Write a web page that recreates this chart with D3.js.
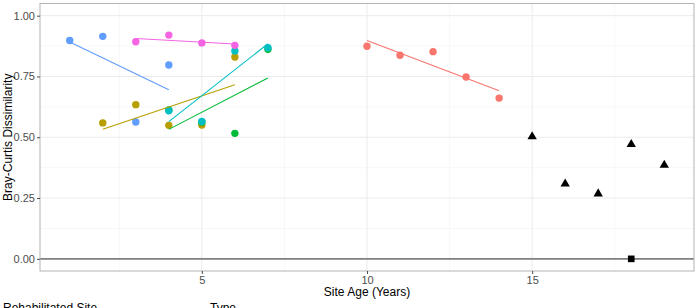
<!DOCTYPE html>
<html><head><meta charset="utf-8">
<script src="https://cdn.jsdelivr.net/npm/d3@7"></script>
<style>body{margin:0;background:#fff}svg{display:block}text{font-family:"Liberation Sans",Arial,sans-serif}</style>
</head><body><svg id="c" width="695" height="308"></svg>
<script>
// ---- data ----
const sites = ["Site 1","Site 2","Site 3","Site 4","Site 5","Site 6"];
const siteColors = ["#F8766D","#B79F00","#00BA38","#00BFC4","#619CFF","#F564E3"];
const site1Age = [10,11,12,13,14], site1Val = [0.874,0.837,0.852,0.748,0.661];
const site2Age = [2,3,4,5,6],      site2Val = [0.559,0.634,0.549,0.550,0.830];
const site3Age = [4,5,6,7],        site3Val = [0.612,0.562,0.516,0.862];
const site4Age = [4,5,6,7],        site4Val = [0.609,0.565,0.855,0.868];
const site5Age = [1,2,3,4],        site5Val = [0.898,0.915,0.563,0.797];
const site6Age = [3,4,5,6],        site6Val = [0.893,0.920,0.888,0.878];
const refAge = [15,16,17,18,19],   refVal = [0.505,0.311,0.270,0.473,0.388];
const ctrlAge = [18],              ctrlVal = [0.0];
const xTicks = [5,10,15];
const yTicks = [0,0.25,0.5,0.75,1];
const yTickLabels = ["0.00","0.25","0.50","0.75","1.00"];

const series = [
  [site1Age,site1Val],[site2Age,site2Val],[site3Age,site3Val],
  [site4Age,site4Val],[site5Age,site5Val],[site6Age,site6Val]
].map((d,i)=>({name:sites[i],color:siteColors[i],pts:d[0].map((a,j)=>({x:a,y:d[1][j]}))}));

// ---- layout ----
const svg = d3.select("#c");
const L=40, R=694, T=3.5, B=271;
const x = d3.scaleLinear().domain([0.1,19.9]).range([L,R]);
const y = d3.scaleLinear().domain([-0.05,1.05]).range([B,T]);

// grid
const g = svg.append("g");
const minorX=[2.5,7.5,12.5,17.5], minorY=[0.125,0.375,0.625,0.875];
g.selectAll(".mx").data(minorX).enter().append("line")
 .attr("x1",d=>x(d)).attr("x2",d=>x(d)).attr("y1",T).attr("y2",B)
 .attr("stroke","#f2f2f2").attr("stroke-width",0.6);
g.selectAll(".my").data(minorY).enter().append("line")
 .attr("y1",d=>y(d)).attr("y2",d=>y(d)).attr("x1",L).attr("x2",R)
 .attr("stroke","#f2f2f2").attr("stroke-width",0.6);
g.selectAll(".gx").data(xTicks).enter().append("line")
 .attr("x1",d=>x(d)).attr("x2",d=>x(d)).attr("y1",T).attr("y2",B)
 .attr("stroke","#ebebeb").attr("stroke-width",1);
g.selectAll(".gy").data(yTicks).enter().append("line")
 .attr("y1",d=>y(d)).attr("y2",d=>y(d)).attr("x1",L).attr("x2",R)
 .attr("stroke","#ebebeb").attr("stroke-width",1);

// hline at 0
svg.append("line").attr("x1",L).attr("x2",R).attr("y1",y(0)).attr("y2",y(0))
 .attr("stroke","#808080").attr("stroke-width",1.6);

// points
series.forEach(s=>{
  svg.append("g").selectAll("circle").data(s.pts).enter().append("circle")
   .attr("cx",d=>x(d.x)).attr("cy",d=>y(d.y)).attr("r",3.7).attr("fill",s.color);
});
// regression lines
function lm(pts){
  const mx=d3.mean(pts,d=>d.x), my=d3.mean(pts,d=>d.y);
  const b=d3.sum(pts,d=>(d.x-mx)*(d.y-my))/d3.sum(pts,d=>(d.x-mx)**2);
  const a=my-b*mx; const ext=d3.extent(pts,d=>d.x);
  return ext.map(v=>({x:v,y:a+b*v}));
}
const line=d3.line().x(d=>x(d.x)).y(d=>y(d.y));
series.forEach(s=>{
  svg.append("path").attr("d",line(lm(s.pts))).attr("fill","none")
   .attr("stroke",s.color).attr("stroke-width",1.1);
});

// reference triangles
const tri=d3.symbol().type(d3.symbolTriangle).size(38);
svg.append("g").selectAll("path").data(refAge.map((a,i)=>({x:a,y:refVal[i]}))).enter().append("path")
 .attr("d",tri).attr("transform",d=>`translate(${x(d.x)},${y(d.y)+0.6})`).attr("fill","#000");
const sq=d3.symbol().type(d3.symbolSquare).size(44);
svg.append("g").selectAll("path").data(ctrlAge.map((a,i)=>({x:a,y:ctrlVal[i]}))).enter().append("path")
 .attr("d",sq).attr("transform",d=>`translate(${x(d.x)},${y(d.y)})`).attr("fill","#000");

// panel border
svg.append("rect").attr("x",L).attr("y",T).attr("width",R-L).attr("height",B-T)
 .attr("fill","none").attr("stroke","#b3b3b3").attr("stroke-width",1);

// axes
const xa=svg.append("g").attr("transform",`translate(0,${B})`)
 .call(d3.axisBottom(x).tickValues(xTicks).tickSize(3).tickPadding(2).tickFormat(d3.format("d")));
const ya=svg.append("g").attr("transform",`translate(${L},0)`)
 .call(d3.axisLeft(y).tickValues(yTicks).tickSize(3).tickPadding(2).tickFormat((d,i)=>yTickLabels[i]));
[xa,ya].forEach(a=>{
  a.select(".domain").remove();
  a.selectAll(".tick line").attr("stroke","#4d4d4d");
  a.selectAll(".tick text").attr("fill","#4d4d4d").style("font-size","11px")
   .style("font-family","'Liberation Sans',Arial,sans-serif");
});

// titles
svg.append("text").attr("x",(L+R)/2).attr("y",296).attr("text-anchor","middle")
 .style("font-size","12px").attr("fill","#000").text("Site Age (Years)");
svg.append("text").attr("transform",`translate(12,${(T+B)/2}) rotate(-90)`).attr("text-anchor","middle")
 .style("font-size","12px").attr("fill","#000").text("Bray-Curtis Dissimilarity");

// legend titles (cut off at bottom)
svg.append("text").attr("x",3).attr("y",312).style("font-size","12px").text("Rehabilitated Site");
svg.append("text").attr("x",210).attr("y",312).style("font-size","12px").text("Type");
</script></body></html>
